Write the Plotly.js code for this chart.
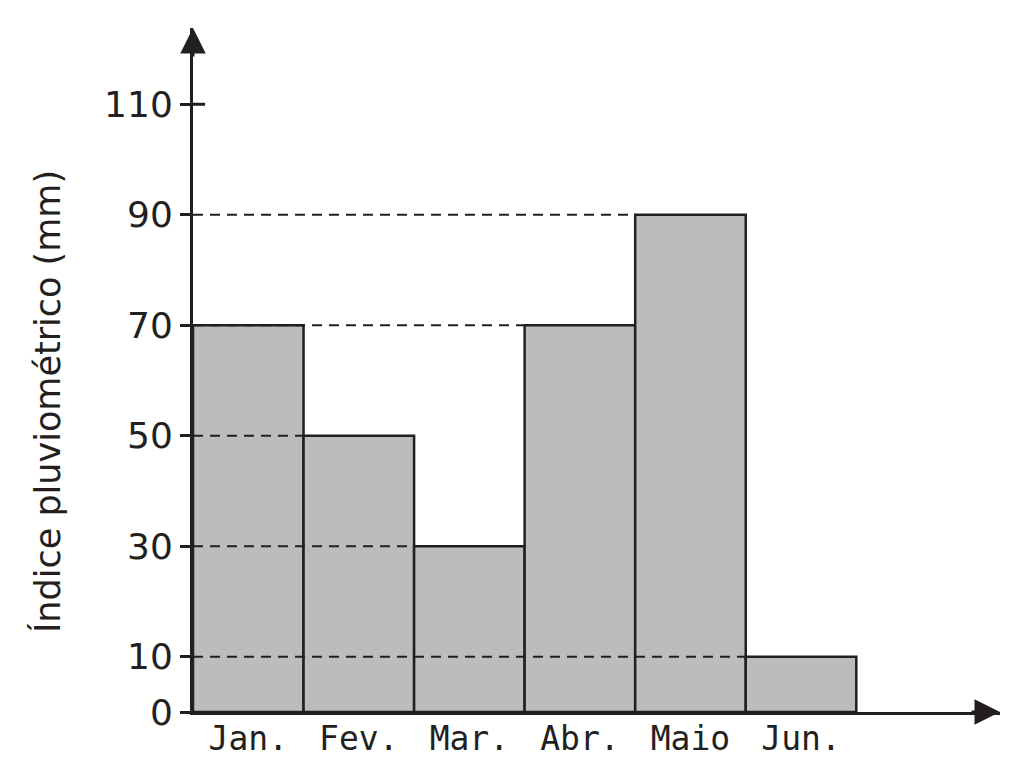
<!DOCTYPE html>
<html>
<head>
<meta charset="utf-8">
<script src="https://cdn.plot.ly/plotly-3.0.1.min.js"></script>
<style>
  html,body{margin:0;padding:0;background:#fff;}
  #chart{width:1034px;height:771px;}
</style>
</head>
<body>
<div id="chart"></div>
<script>
// ── Índice pluviométrico por mês ──────────────────────────────────
const months = ['Jan.', 'Fev.', 'Mar.', 'Abr.', 'Maio', 'Jun.'];
const rain   = [70, 50, 30, 70, 90, 10];
const yTicks = [0, 10, 30, 50, 70, 90, 110];

const INK='#231f20', FILL='#bcbcbc';
const xIdx = months.map((_,i)=>i);
const X0 = -0.5, XMAX = 6.8, YMAX = 123.8;

// dashed guides: from the y axis to the left edge of each bar
const guides = rain.map((v,i)=>({
  x:[X0, i-0.5], y:[v, v], mode:'lines', type:'scatter', hoverinfo:'skip',
  line:{color:INK, width:2.2, dash:'10px,7px'}, showlegend:false
}));

const bars = {
  x:xIdx, y:rain, type:'bar', width:1, showlegend:false,
  marker:{color:FILL, line:{color:INK, width:2.5}}, hoverinfo:'skip'
};

const layout = {
  width:1034, height:771,
  margin:{l:193, r:34, t:28, b:59},
  paper_bgcolor:'white', plot_bgcolor:'white',
  font:{family:'DejaVu Sans, Verdana, sans-serif', color:INK},
  bargap:0,
  xaxis:{
    range:[X0, XMAX], tickvals:xIdx, ticktext:months, ticks:'',
    showgrid:false, zeroline:false, showline:true, linecolor:INK, linewidth:3,
    tickfont:{family:'DejaVu Sans Mono, monospace', size:33, color:INK},
    ticklabelstandoff:-5, fixedrange:true
  },
  yaxis:{
    range:[0, YMAX], tickvals:yTicks, ticks:'outside', ticklen:10, tickwidth:3, tickcolor:INK,
    showgrid:false, zeroline:false, showline:true, linecolor:INK, linewidth:3,
    tickfont:{size:36, color:INK}, fixedrange:true
  },
  shapes:[
    // tick at 110 crosses the axis
    {type:'line', xref:'paper', yref:'y', x0:0, x1:0.015, y0:110, y1:110, line:{color:INK, width:3}}
  ],
  annotations:[
    {xref:'paper', yref:'paper', x:1, y:0, ax:-30, ay:0, showarrow:true,
     arrowhead:2, arrowsize:1.7, arrowwidth:3, arrowcolor:INK, text:''},
    {xref:'paper', yref:'paper', x:0, y:1, ax:0, ay:30, showarrow:true,
     arrowhead:2, arrowsize:1.7, arrowwidth:3, arrowcolor:INK, text:''},
    {xref:'paper', yref:'paper', x:-0.1797, y:0.4547, xanchor:'center', yanchor:'middle',
     textangle:-90, showarrow:false, text:'Índice pluviométrico (mm)',
     font:{size:35, color:INK}}
  ]
};

Plotly.newPlot('chart', [bars, ...guides], layout, {displayModeBar:false, staticPlot:true});
</script>
</body>
</html>
